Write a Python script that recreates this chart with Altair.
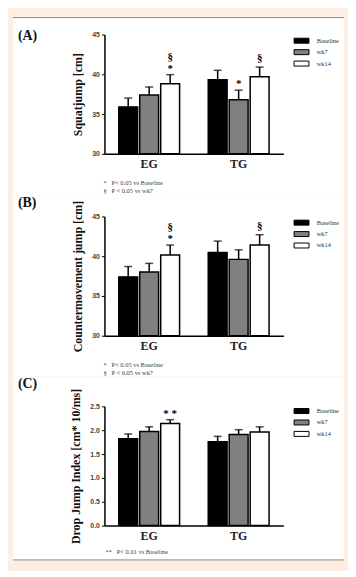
import altair as alt
import pandas as pd

groups = ["EG", "TG"]
series = ["Baseline", "wk7", "wk14"]
bar_colors = ["#000000", "#808080", "#ffffff"]

# order: EG Baseline, EG wk7, EG wk14, TG Baseline, TG wk7, TG wk14
sj_mean = [35.9, 37.4, 38.8, 39.3, 36.8, 39.7]
sj_err = [1.1, 1.0, 1.15, 1.2, 1.2, 1.2]
cmj_mean = [37.4, 38.0, 40.15, 40.45, 39.6, 41.4]
cmj_err = [1.3, 1.1, 1.25, 1.45, 1.2, 1.3]
dj_mean = [1.82, 1.97, 2.14, 1.76, 1.91, 1.96]
dj_err = [0.10, 0.10, 0.08, 0.11, 0.10, 0.11]

sj_sig = [("EG", "wk14", "*", 1), ("EG", "wk14", "§", 2), ("TG", "wk7", "*", 1), ("TG", "wk14", "§", 1)]
cmj_sig = [("EG", "wk14", "*", 1), ("EG", "wk14", "§", 2), ("TG", "wk14", "§", 1)]
dj_sig = [("EG", "wk14", "* *", 1)]

NB = "\u00a0"
notes_ab = ["*" + NB * 3 + "P< 0.05 vs Baseline", "§" + NB * 3 + "P < 0.05 vs wk7"]
notes_c = ["**" + NB * 3 + "P< 0.01 vs Baseline"]

SERIF = "Liberation Serif"
SANS = "Liberation Sans"
PEACH = "#fdede3"

# vertical offset (px) of a significance mark above its error bar, by (symbol kind, level)
SIG_DY = {("*", 1): -6, ("§", 1): -9, ("*", 2): -15, ("§", 2): -18}


def panel(tag, means, errs, sig, ydom, yticks, yfmt, ytitle, notes, frame,
          tag_y, notes_x, notes_y, legend_y, top_line=False, bottom_line=False):
    df = pd.DataFrame({
        "group": [g for g in groups for s in series],
        "series": [s for g in groups for s in series],
        "mean": means,
        "err": errs,
    })
    df["hi"] = df["mean"] + df["err"]
    df["base"] = ydom[0]

    xaxis = alt.Axis(title=None, labelFont=SERIF, labelFontWeight="bold", labelFontSize=12,
                     labelColor="#222", ticks=False, domainColor="black", domainWidth=1.5,
                     labelPadding=5, labelAngle=0, zindex=1)
    x = alt.X("group:N", sort=groups, axis=xaxis,
              scale=alt.Scale(domain=groups, paddingInner=0.32, paddingOuter=0.16))
    xo = alt.XOffset("series:N", sort=series,
                     scale=alt.Scale(domain=series, paddingInner=0.1, paddingOuter=0))
    yaxis = alt.Axis(title=ytitle, values=yticks, format=yfmt, grid=False,
                     titleFont=SERIF, titleFontWeight="bold", titleFontSize=12, titleColor="#111",
                     labelFont=SANS, labelFontWeight="bold", labelFontSize=7, labelColor="#444",
                     tickSize=3, tickColor="black", tickWidth=1, domainColor="black",
                     domainWidth=1.5, labelPadding=2, titlePadding=7, zindex=1)
    yscale = alt.Scale(domain=ydom, zero=False, nice=False)

    base = alt.Chart(df)
    one = pd.DataFrame({"k": [0]})

    bg = alt.Chart(one).mark_rect(fill="white").encode(
        x=alt.value(frame[0]), x2=alt.value(frame[1]),
        y=alt.value(frame[2]), y2=alt.value(frame[3]))

    bars = base.mark_bar(stroke="black", strokeWidth=1.5).encode(
        x=x, xOffset=xo,
        y=alt.Y("mean:Q", scale=yscale, axis=yaxis),
        y2=alt.Y2("base:Q"),
        color=alt.Color("series:N", sort=series,
                        scale=alt.Scale(domain=series, range=bar_colors),
                        legend=alt.Legend(title=None, orient="none", legendX=195, legendY=legend_y,
                                          direction="vertical", symbolType="M-3,-1H3V1H-3Z",
                                          symbolSize=25, symbolStrokeColor="black",
                                          symbolStrokeWidth=1, labelFont=SERIF, labelFontSize=6.5,
                                          labelColor="#333333", labelOffset=12, rowPadding=1.5,
                                          padding=0)),
    )
    rules = base.mark_rule(color="black", strokeWidth=1.5).encode(
        x=x, xOffset=xo,
        y=alt.Y("mean:Q", scale=yscale, axis=yaxis),
        y2=alt.Y2("hi:Q"))
    caps = base.mark_tick(color="black", size=8, thickness=1.5).encode(
        x=x, xOffset=xo, y=alt.Y("hi:Q", scale=yscale, axis=yaxis))

    layers = [bg, bars, rules, caps]

    sdf = pd.DataFrame(sig, columns=["group", "series", "label", "level"])
    sdf = sdf.merge(df[["group", "series", "hi"]], on=["group", "series"])
    sdf["kind"] = sdf["label"].map(lambda s: "§" if "§" in s else "*")
    for (kind, lvl), dy in SIG_DY.items():
        part = sdf[(sdf["kind"] == kind) & (sdf["level"] == lvl)]
        if len(part):
            layers.append(alt.Chart(part[["group", "series", "label", "hi"]]).mark_text(
                dy=dy, font=SERIF, fontWeight="bold", fontSize=11, color="black",
                baseline="middle").encode(
                x=x, xOffset=xo, y=alt.Y("hi:Q", scale=yscale, axis=yaxis), text="label:N"))

    layers.append(alt.Chart(one).mark_text(
        text=tag, font=SERIF, fontWeight="bold", fontSize=14, align="left",
        baseline="middle", color="#111").encode(x=alt.value(-87), y=alt.value(tag_y)))
    layers.append(alt.Chart(one).mark_text(
        text=notes, font=SERIF, fontSize=6.5, lineHeight=8.3, align="left",
        baseline="top", color="#444").encode(x=alt.value(notes_x), y=alt.value(notes_y)))
    if top_line:
        layers.append(alt.Chart(one).mark_rule(color="#8a8a8a", strokeWidth=1).encode(
            x=alt.value(frame[0]), x2=alt.value(frame[1]), y=alt.value(frame[2])))
    if bottom_line:
        layers.append(alt.Chart(one).mark_rule(color="#8a8a8a", strokeWidth=1).encode(
            x=alt.value(frame[0]), x2=alt.value(frame[1]), y=alt.value(frame[3])))

    return alt.layer(*layers).properties(width=180, height=120)


pa = panel("(A)", sj_mean, sj_err, sj_sig, [30, 45], [30, 35, 40, 45], "d", "Squatjump [cm]",
           notes_ab, (-92, 241, -17, 162), 2, -1, 146.5, 3, top_line=True)
pb = panel("(B)", cmj_mean, cmj_err, cmj_sig, [30, 45], [30, 35, 40, 45], "d",
           "Countermovement jump [cm]", notes_ab, (-92, 241, -21, 161), -13.3, -1, 146, 3)
pc = panel("(C)", dj_mean, dj_err, dj_sig, [0, 2.5], [0, 0.5, 1.0, 1.5, 2.0, 2.5], ".1f",
           "Drop Jump Index [cm* 10/ms]", notes_c, (-92, 241, -29.5, 154.5), -22.2, 1, 144,
           1.5, bottom_line=True)

chart = alt.vconcat(pa, pb, pc, spacing=0).resolve_scale(
    color="independent", x="independent", y="independent").resolve_legend(
    color="independent").configure(
    background=PEACH, padding={"left": 4, "top": 7, "right": 3, "bottom": 9}).configure_view(
    stroke=None)

chart.save("out.html", embed_options={"renderer": "svg", "actions": False})
